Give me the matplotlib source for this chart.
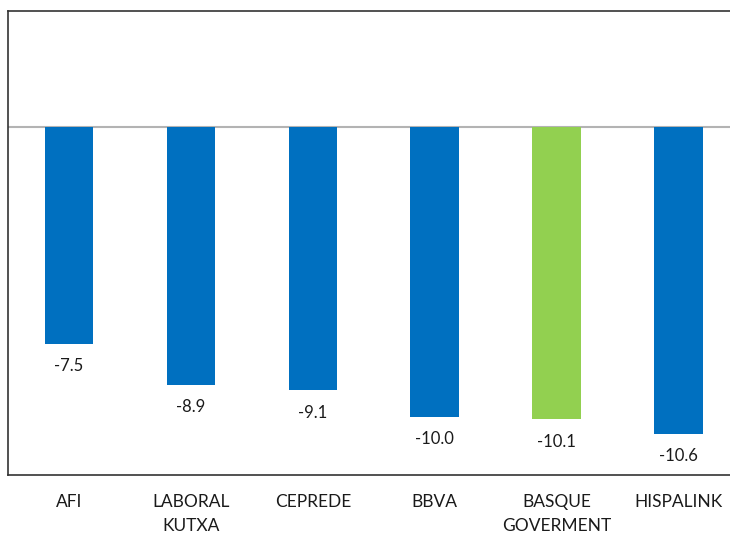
import numpy as np
import matplotlib.pyplot as plt

# forecasters and their figures
categories = ["AFI", "LABORAL\nKUTXA", "CEPREDE", "BBVA", "BASQUE\nGOVERMENT", "HISPALINK"]
values = [-7.5, -8.9, -9.1, -10.0, -10.1, -10.6]
labels = ["-7.5", "-8.9", "-9.1", "-10.0", "-10.1", "-10.6"]
highlight = "BASQUE\nGOVERMENT"

blue = "#0070C0"
green = "#92D050"

plt.rcParams['font.family'] = ['Lato', 'DejaVu Sans']

fig = plt.figure(figsize=(7.3, 5.35), dpi=100)
ax = fig.add_axes([8 / 730, (535 - 474.5) / 535, 722 / 730, 464 / 535])

x = np.arange(len(categories))
colors = [green if c == highlight else blue for c in categories]
ax.bar(x, values, width=0.4, color=colors, zorder=2)
ax.axhline(0, color="#b3b3b3", lw=1.5, zorder=1)

for xi, v, lab in zip(x, values, labels):
    ax.annotate(lab, (xi, v), xytext=(0, -16), textcoords="offset points",
                ha="center", va="center", fontsize=12, color="#1a1a1a")

ax.set_xlim(-0.5, 5.42)
ax.set_ylim(-12, 4)
ax.set_xticks(x)
ax.set_xticklabels(categories, fontsize=12.5, color="#1a1a1a", linespacing=1.65)
ax.tick_params(axis="x", length=0, pad=14)
ax.set_yticks([])
ax.spines["right"].set_visible(False)
for s in ["left", "top", "bottom"]:
    ax.spines[s].set_color("#333333")
    ax.spines[s].set_linewidth(1.2)

plt.savefig("out.png", dpi=100)
